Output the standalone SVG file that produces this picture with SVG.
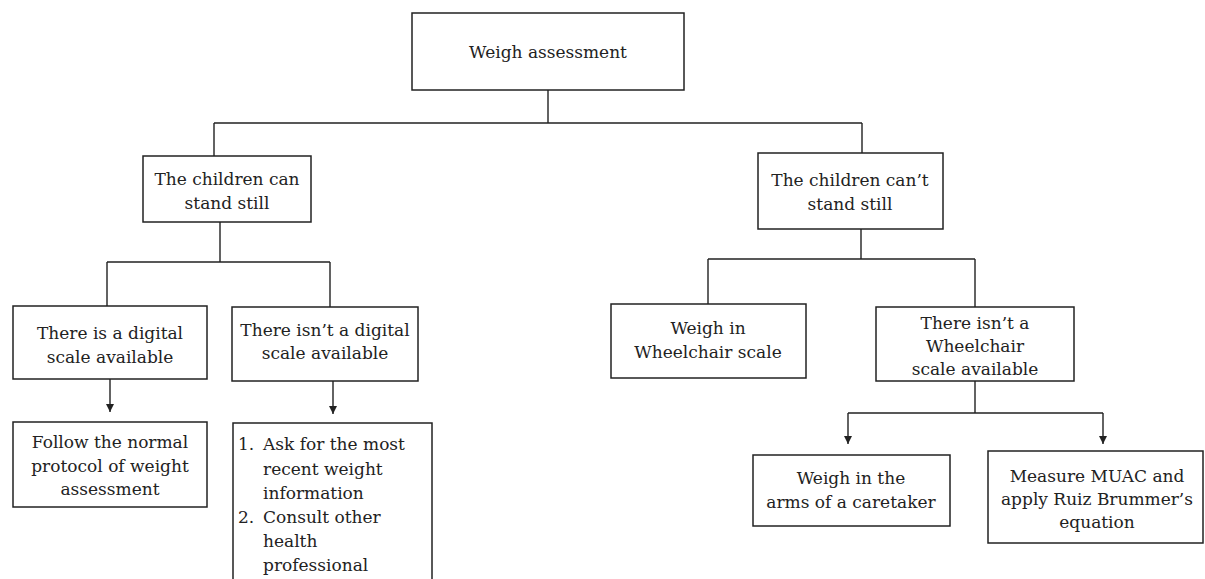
<svg xmlns="http://www.w3.org/2000/svg" width="1205" height="579" viewBox="0 0 1205 579">
<style>
  .box { fill: #fff; stroke: #222; stroke-width: 1.5; }
  .t { font-family: "DejaVu Serif", "Liberation Serif", serif; font-size: 17px; fill: #222; text-anchor: middle; }
  .l { font-family: "DejaVu Serif", "Liberation Serif", serif; font-size: 17px; fill: #222; }
  .c { fill: none; stroke: #222; stroke-width: 1.4; }
</style>
<defs>
  <marker id="ah" viewBox="0 0 8 10" refX="8" refY="5" markerWidth="8" markerHeight="10" markerUnits="userSpaceOnUse" orient="auto">
    <path d="M0,1 L8,5 L0,9 Z" fill="#222"/>
  </marker>
</defs>
<rect width="1205" height="579" fill="#fff"/>
<g id="connectors">
  <path class="c" d="M548,90 V123 M214,123 H862 M214,123 V156 M862,123 V153"/>
  <path class="c" d="M220,222 V262 M107,262 H330 M107,262 V306 M330,262 V307"/>
  <path class="c" d="M861,229 V259 M708,259 H975 M708,259 V304 M975,259 V307"/>
  <path class="c" d="M110,379 V412" marker-end="url(#ah)"/>
  <path class="c" d="M333,381 V414" marker-end="url(#ah)"/>
  <path class="c" d="M975,381 V413 M848,413 H1103"/>
  <path class="c" d="M848,413 V444" marker-end="url(#ah)"/>
  <path class="c" d="M1103,413 V444" marker-end="url(#ah)"/>
</g>
<g id="n-root">
  <rect class="box" x="412" y="13" width="272" height="77"/>
  <text class="t" x="548" y="58">Weigh assessment</text>
</g>
<g id="n-can">
  <rect class="box" x="143" y="156" width="168" height="66"/>
  <text class="t" x="227" y="185">The children can</text>
  <text class="t" x="227" y="209">stand still</text>
</g>
<g id="n-cant">
  <rect class="box" x="758" y="153" width="185" height="76"/>
  <text class="t" x="850" y="186">The children can’t</text>
  <text class="t" x="850" y="210">stand still</text>
</g>
<g id="n-digital">
  <rect class="box" x="13" y="306" width="194" height="73"/>
  <text class="t" x="110" y="339">There is a digital</text>
  <text class="t" x="110" y="363">scale available</text>
</g>
<g id="n-nodigital">
  <rect class="box" x="232" y="307" width="186" height="74"/>
  <text class="t" x="325" y="336">There isn’t a digital</text>
  <text class="t" x="325" y="359">scale available</text>
</g>
<g id="n-follow">
  <rect class="box" x="13" y="422" width="194" height="85"/>
  <text class="t" x="110" y="448">Follow the normal</text>
  <text class="t" x="110" y="472">protocol of weight</text>
  <text class="t" x="110" y="495">assessment</text>
</g>
<g id="n-list">
  <rect class="box" x="233" y="423" width="199" height="170"/>
  <text class="l" x="238" y="450">1.</text>
  <text class="l" x="263" y="450">Ask for the most</text>
  <text class="l" x="263" y="475">recent weight</text>
  <text class="l" x="263" y="499">information</text>
  <text class="l" x="238" y="523">2.</text>
  <text class="l" x="263" y="523">Consult other</text>
  <text class="l" x="263" y="547">health</text>
  <text class="l" x="263" y="571">professional</text>
</g>
<g id="n-wheel">
  <rect class="box" x="611" y="304" width="195" height="74"/>
  <text class="t" x="708" y="334">Weigh in</text>
  <text class="t" x="708" y="358">Wheelchair scale</text>
</g>
<g id="n-nowheel">
  <rect class="box" x="876" y="307" width="198" height="74"/>
  <text class="t" x="975" y="329">There isn’t a</text>
  <text class="t" x="975" y="352">Wheelchair</text>
  <text class="t" x="975" y="375">scale available</text>
</g>
<g id="n-arms">
  <rect class="box" x="753" y="455" width="197" height="71"/>
  <text class="t" x="851" y="484">Weigh in the</text>
  <text class="t" x="851" y="508">arms of a caretaker</text>
</g>
<g id="n-muac">
  <rect class="box" x="988" y="451" width="215" height="92"/>
  <text class="t" x="1097" y="482">Measure MUAC and</text>
  <text class="t" x="1097" y="505">apply Ruiz Brummer’s</text>
  <text class="t" x="1097" y="528">equation</text>
</g>
</svg>
